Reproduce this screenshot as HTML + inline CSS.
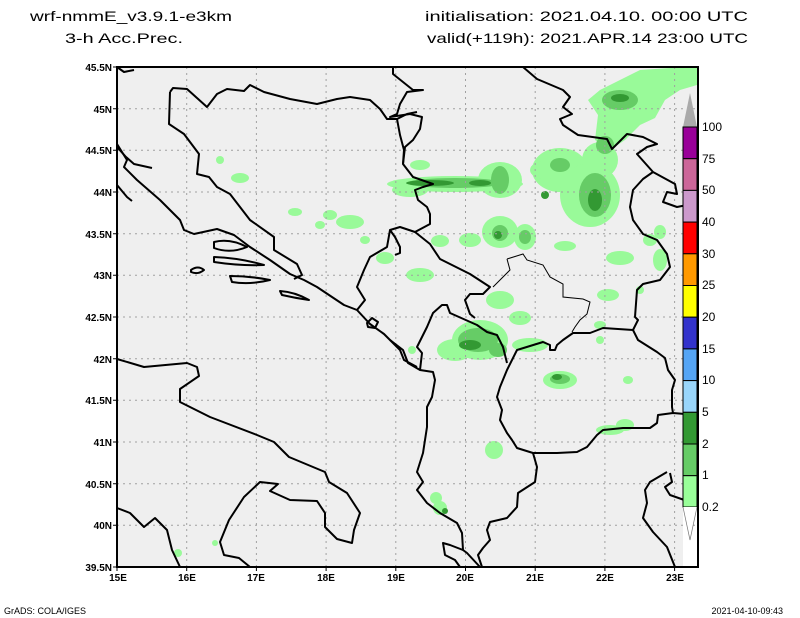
<!DOCTYPE html>
<html><head><meta charset="utf-8"><style>
html,body{margin:0;padding:0;background:#fff;}
svg{display:block;}
</style></head><body>
<svg width="800" height="618" viewBox="0 0 800 618" xmlns="http://www.w3.org/2000/svg" font-family="Liberation Sans, sans-serif">
<rect width="800" height="618" fill="#fff"/>
<g font-size="14" fill="#000">
<text x="30" y="21" textLength="202" lengthAdjust="spacingAndGlyphs">wrf-nmmE_v3.9.1-e3km</text>
<text x="65" y="43" textLength="118" lengthAdjust="spacingAndGlyphs">3-h Acc.Prec.</text>
<text x="425" y="21" textLength="323" lengthAdjust="spacingAndGlyphs">initialisation: 2021.04.10.  00:00 UTC</text>
<text x="427" y="43" textLength="321" lengthAdjust="spacingAndGlyphs">valid(+119h): 2021.APR.14 23:00 UTC</text>
</g>
<rect x="117" y="67" width="581" height="500" fill="#efefef"/>
<rect x="683" y="507" width="15" height="60" fill="#fff"/>
<g fill="#99fa99">
<path d="M600,90 L620,80 L640,70 L670,68 L690,67 L697,67 L697,85 L680,90 L665,100 L655,118 L640,125 L625,140 L610,150 L595,140 L598,115 L588,100Z"/>
<ellipse cx="560" cy="170" rx="28" ry="22"/>
<ellipse cx="590" cy="195" rx="30" ry="32"/>
<ellipse cx="600" cy="160" rx="18" ry="18"/>
<ellipse cx="545" cy="170" rx="15" ry="9"/>
<ellipse cx="500" cy="180" rx="22" ry="18"/>
<ellipse cx="455" cy="184" rx="68" ry="8"/>
<ellipse cx="410" cy="190" rx="18" ry="7"/>
<ellipse cx="500" cy="232" rx="18" ry="16"/>
<ellipse cx="525" cy="237" rx="11" ry="13"/>
<ellipse cx="470" cy="240" rx="11" ry="7"/>
<ellipse cx="440" cy="241" rx="9" ry="6"/>
<ellipse cx="565" cy="246" rx="11" ry="5"/>
<ellipse cx="620" cy="258" rx="14" ry="7"/>
<ellipse cx="608" cy="295" rx="11" ry="6"/>
<ellipse cx="650" cy="240" rx="7" ry="6"/>
<ellipse cx="660" cy="260" rx="7" ry="11"/>
<ellipse cx="480" cy="340" rx="28" ry="20"/>
<ellipse cx="455" cy="350" rx="18" ry="11"/>
<ellipse cx="500" cy="300" rx="14" ry="9"/>
<ellipse cx="520" cy="318" rx="11" ry="7"/>
<ellipse cx="560" cy="380" rx="17" ry="9"/>
<ellipse cx="530" cy="345" rx="18" ry="7"/>
<ellipse cx="610" cy="430" rx="14" ry="5"/>
<ellipse cx="625" cy="425" rx="9" ry="6"/>
<ellipse cx="494" cy="450" rx="9" ry="9"/>
<ellipse cx="440" cy="508" rx="7" ry="7"/>
<ellipse cx="350" cy="222" rx="14" ry="7"/>
<ellipse cx="330" cy="215" rx="7" ry="5"/>
<ellipse cx="295" cy="212" rx="7" ry="4"/>
<ellipse cx="240" cy="178" rx="9" ry="5"/>
<ellipse cx="220" cy="160" rx="4" ry="4"/>
<ellipse cx="320" cy="225" rx="5" ry="4"/>
<ellipse cx="385" cy="258" rx="9" ry="6"/>
<ellipse cx="420" cy="275" rx="14" ry="7"/>
<ellipse cx="600" cy="340" rx="4" ry="4"/>
<ellipse cx="640" cy="290" rx="4" ry="4"/>
<ellipse cx="660" cy="232" rx="6" ry="7"/>
<ellipse cx="420" cy="165" rx="10" ry="5"/>
<ellipse cx="365" cy="240" rx="5" ry="4"/>
<ellipse cx="628" cy="380" rx="5" ry="4"/>
<ellipse cx="600" cy="325" rx="6" ry="4"/>
<ellipse cx="178" cy="553" rx="4" ry="4"/>
<ellipse cx="215" cy="543" rx="3" ry="3"/>
<ellipse cx="412" cy="350" rx="4" ry="4"/>
<ellipse cx="436" cy="498" rx="6" ry="6"/>
</g>
<g fill="#66cc66">
<ellipse cx="620" cy="100" rx="18" ry="10"/>
<ellipse cx="595" cy="195" rx="16" ry="22"/>
<ellipse cx="560" cy="165" rx="10" ry="7"/>
<ellipse cx="455" cy="183" rx="48" ry="5"/>
<ellipse cx="500" cy="180" rx="9" ry="14"/>
<ellipse cx="500" cy="233" rx="8" ry="8"/>
<ellipse cx="525" cy="237" rx="6" ry="7"/>
<ellipse cx="478" cy="340" rx="20" ry="12"/>
<ellipse cx="498" cy="350" rx="9" ry="7"/>
<ellipse cx="560" cy="379" rx="10" ry="5"/>
<ellipse cx="605" cy="145" rx="9" ry="9"/>
</g>
<g fill="#339933">
<ellipse cx="620" cy="98" rx="9" ry="4"/>
<ellipse cx="595" cy="200" rx="7" ry="11"/>
<ellipse cx="430" cy="183" rx="24" ry="3"/>
<ellipse cx="480" cy="183" rx="11" ry="3"/>
<ellipse cx="545" cy="195" rx="4" ry="4"/>
<ellipse cx="470" cy="345" rx="11" ry="5"/>
<ellipse cx="498" cy="235" rx="4" ry="4"/>
<ellipse cx="445" cy="511" rx="3" ry="3"/>
<ellipse cx="557" cy="377" rx="5" ry="3"/>
</g>
<g stroke="#a0a0a0" stroke-width="1" stroke-dasharray="2,4" fill="none">
<path d="M186.7,67V567M256.4,67V567M326.1,67V567M395.8,67V567M465.5,67V567M535.2,67V567M604.9,67V567M674.6,67V567"/>
<path d="M117,108.7H698M117,150.3H698M117,192H698M117,233.7H698M117,275.3H698M117,317H698M117,358.7H698M117,400.3H698M117,442H698M117,483.7H698M117,525.3H698"/>
</g>
<g stroke="#000" stroke-width="2" fill="none" stroke-linejoin="round">
<path d="M117,359 L144,367 L187,363 L197,367 L199,376 L180,389 L180,402 L210,417 L257,435 L274,442 L289,457 L325,472 L329,482 L347,493 L360,513 L354,530 L352,543 L337,539 L325,527 L325,513 L317,501 L290,500 L270,491 L278,484 L260,482 L244,497 L229,520 L220,542 L224,555 L239,558 L250,567"/>
<path d="M117,508 L130,513 L144,527 L155,518 L167,530 L172,550 L180,567"/>
<path d="M117,67 L124,72 L134,70"/>
<path d="M170,92 L173,88 L187,89 L207,107 L217,94 L227,89 L244,91 L250,85 L264,92 L290,99 L317,104 L337,99 L350,97 L370,100 L380,109 L387,119 L397,119 L407,114 L417,112"/>
<path d="M170,92 L169,124 L184,134 L199,154 L197,174 L209,177 L217,187 L230,194 L250,220 L274,237 L274,250 L297,264 L302,275 L294,279"/>
<path d="M117,144 L127,160 L124,167 L137,180 L160,200 L180,220 L184,230 L194,234 L217,229 L234,235 L250,247 L270,260 L290,274 L304,280 L317,287 L344,305 L357,310 L370,324 L384,334 L400,350 L404,360 L417,367"/>
<path d="M117,147 L126,157 L134,164 L152,168"/>
<path d="M117,185 L127,197 L132,201"/>
<path d="M214,242 Q230,238 247,247 Q230,254 214,248Z"/>
<path d="M214,257 Q240,258 264,265 Q240,266 214,262Z"/>
<path d="M191,270 Q198,265 204,270 Q198,275 191,272Z"/>
<path d="M230,276 Q250,276 270,280 Q250,285 232,282Z"/>
<path d="M280,291 Q295,292 309,300 Q295,298 282,295Z"/>
<path d="M397,119 L400,135 L404,150 L403,164 L413,177 L433,184 L423,187 L415,190 L418,200 L427,207 L430,214 L430,224 L415,232 L400,227 L390,230 L387,247 L370,257 L364,270 L357,287 L365,300 L357,310"/>
<path d="M390,230 L395,237 L400,247 L400,253 L395,255"/>
<path d="M393,67 L393,74 L413,90 L423,90 L407,92 L400,104 L397,114 L390,117 L410,114 L422,117 L420,129 L413,140 L405,147 L403,164"/>
<path d="M523,67 L537,79 L563,90 L570,97 L563,107 L572,114 L560,119 L563,125 L578,135 L607,139 L612,149 L627,134 L643,137 L657,144 L647,147 L637,154 L653,172 L675,184 L677,194 L667,192 L663,202 L677,207 L697,203"/>
<path d="M653,172 L643,179 L633,190 L630,207 L633,220 L643,234 L657,240 L667,254 L670,267 L660,280 L643,284 L637,290 L635,317 L638,320 L633,330"/>
<path d="M633,330 L603,328 L590,333 L573,333 L563,340 L557,345 L555,350 L550,350 L550,345 L543,342 L517,350 L507,370 L500,387 L497,397 L502,410 L500,420 L507,433 L512,440 L517,448 L533,453 L557,453 L577,452 L587,447 L597,435 L603,430 L623,428 L650,428 L657,423 L658,415 L673,413 L697,415"/>
<path d="M633,330 L638,340 L657,352 L665,358 L668,370 L675,380 L672,390 L672,407 L673,413"/>
<path d="M415,232 L430,244 L440,259 L470,274 L490,287 L483,294 L470,294 L465,300 L470,314 L475,318"/>
<path d="M533,453 L537,467 L535,482 L518,493 L517,507 L507,518 L490,522 L487,530 L490,540 L483,548 L478,555 L482,567"/>
<path d="M390,340 L403,350 L408,363 L420,370 L433,372 L435,380 L432,397 L427,407 L427,427 L423,453 L417,472 L423,482 L417,490 L427,503 L440,513 L457,523 L462,533 L463,550 L467,553 L480,567"/>
<path d="M463,550 L450,545 L443,543 L445,555 L455,560 L460,567"/>
<path d="M420,370 L422,353 L417,347 L427,327 L433,313 L442,305 L447,305 L450,313 L477,325 L487,332 L497,335 L503,347 L507,363"/>
<path d="M667,472 L650,482 L645,490 L647,503 L643,518 L653,532 L667,547 L675,567"/>
<path d="M670,473 L672,482 L665,487 L670,495 L690,502 L697,503"/>
<path d="M367,323 L372,318 L378,322 L375,328 L368,327Z"/>
</g>
<g stroke="#000" stroke-width="1" fill="none">
<path d="M507,259 L523,254 L527,260 L543,265 L550,277 L563,284 L563,297 L583,299 L590,302 L587,314 L580,320 L575,327 L572,332"/>
<path d="M507,259 L510,270 L500,280 L493,287"/>
</g>
<g stroke="#000" stroke-width="1">
<polygon points="683,127 697,127 690,93" fill="#aaaaaa" stroke="none"/>
<rect x="683" y="127" width="14" height="31.7" fill="#990099"/>
<rect x="683" y="158.7" width="14" height="31.7" fill="#cc6699"/>
<rect x="683" y="190.4" width="14" height="31.7" fill="#cc99cc"/>
<rect x="683" y="222.1" width="14" height="31.7" fill="#ff0000"/>
<rect x="683" y="253.8" width="14" height="31.7" fill="#ff9900"/>
<rect x="683" y="285.5" width="14" height="31.7" fill="#ffff00"/>
<rect x="683" y="317.2" width="14" height="31.7" fill="#3333cc"/>
<rect x="683" y="348.9" width="14" height="31.7" fill="#55a5f5"/>
<rect x="683" y="380.6" width="14" height="31.7" fill="#99d5fa"/>
<rect x="683" y="412.3" width="14" height="31.7" fill="#339933"/>
<rect x="683" y="444" width="14" height="31.7" fill="#66cc66"/>
<rect x="683" y="475.7" width="14" height="31.3" fill="#99ff99"/>
<polyline points="683,507 690,540 697,507" fill="#fff" stroke="#777" stroke-width="0.7"/>
</g>
<g font-size="12" fill="#000">
<text x="702" y="131">100</text>
<text x="702" y="163">75</text>
<text x="702" y="194">50</text>
<text x="702" y="226">40</text>
<text x="702" y="258">30</text>
<text x="702" y="289">25</text>
<text x="702" y="321">20</text>
<text x="702" y="353">15</text>
<text x="702" y="384">10</text>
<text x="702" y="416">5</text>
<text x="702" y="448">2</text>
<text x="702" y="479">1</text>
<text x="702" y="511">0.2</text>
</g>
<rect x="117" y="67" width="581" height="500" fill="none" stroke="#000" stroke-width="2"/>
<g stroke="#000" stroke-width="1">
<path d="M113,67H117M113,108.7H117M113,150.3H117M113,192H117M113,233.7H117M113,275.3H117M113,317H117M113,358.7H117M113,400.3H117M113,442H117M113,483.7H117M113,525.3H117M113,567H117"/>
<path d="M117,567V571M186.7,567V571M256.4,567V571M326.1,567V571M395.8,567V571M465.5,567V571M535.2,567V571M604.9,567V571M674.6,567V571"/>
</g>
<g font-size="10" font-weight="bold" fill="#000" text-anchor="end">
<text x="112" y="71">45.5N</text>
<text x="112" y="113">45N</text>
<text x="112" y="154">44.5N</text>
<text x="112" y="196">44N</text>
<text x="112" y="238">43.5N</text>
<text x="112" y="279">43N</text>
<text x="112" y="321">42.5N</text>
<text x="112" y="363">42N</text>
<text x="112" y="404">41.5N</text>
<text x="112" y="446">41N</text>
<text x="112" y="488">40.5N</text>
<text x="112" y="529">40N</text>
<text x="112" y="571">39.5N</text>
</g>
<g font-size="10" font-weight="bold" fill="#000" text-anchor="middle">
<text x="118" y="581">15E</text>
<text x="187" y="581">16E</text>
<text x="256" y="581">17E</text>
<text x="326" y="581">18E</text>
<text x="396" y="581">19E</text>
<text x="465" y="581">20E</text>
<text x="535" y="581">21E</text>
<text x="605" y="581">22E</text>
<text x="675" y="581">23E</text>
</g>
<g font-size="9" fill="#000">
<text x="4" y="614">GrADS: COLA/IGES</text>
<text x="783" y="614" text-anchor="end">2021-04-10-09:43</text>
</g>
</svg>
</body></html>
